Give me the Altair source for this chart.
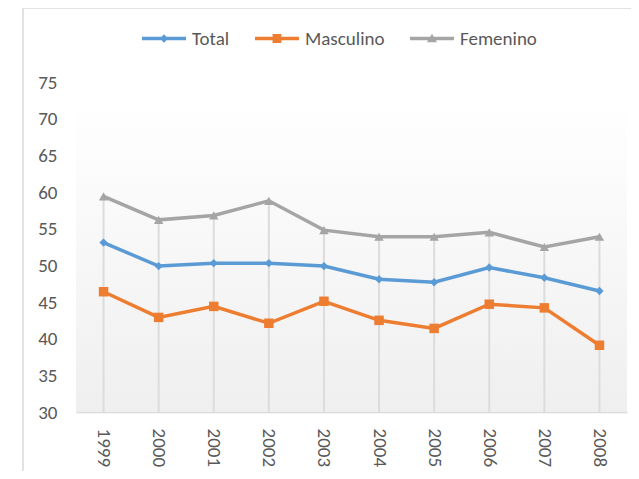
import altair as alt
import pandas as pd

years = ["1999", "2000", "2001", "2002", "2003", "2004", "2005", "2006", "2007", "2008"]
total = [53.1, 49.9, 50.3, 50.3, 49.9, 48.1, 47.7, 49.7, 48.3, 46.5]
masculino = [46.4, 42.9, 44.4, 42.1, 45.1, 42.5, 41.4, 44.7, 44.2, 39.1]
femenino = [59.4, 56.2, 56.8, 58.8, 54.8, 53.9, 53.9, 54.5, 52.5, 53.9]
series_names = ["Total", "Masculino", "Femenino"]
series_colors = ["#5B9BD5", "#ED7D31", "#A5A5A5"]
series_shapes = ["diamond", "square", "triangle-up"]
series_sizes = [70, 90, 90]

rows = []
for name, vals in zip(series_names, [total, masculino, femenino]):
    for y, v in zip(years, vals):
        rows.append({"year": y, "value": v, "series": name})
df = pd.DataFrame(rows)
df_fem = pd.DataFrame({"year": years, "value": femenino})

FONT = "Carlito, Calibri, 'Liberation Sans Narrow', 'Open Sans', sans-serif"
FS = 19
W, H = 551, 330

xs = alt.X("year:N", scale=alt.Scale(type="point", padding=0.5),
           axis=alt.Axis(title=None, labelAngle=90, labelAlign="left", labelBaseline="middle",
                         labelPadding=16, ticks=False, domain=True, domainColor="#d9d9d9",
                         domainWidth=1.5, grid=False, labelFontSize=FS, labelColor="#595959",
                         labelFont=FONT))
ys = alt.Y("value:Q", scale=alt.Scale(domain=[30, 75], nice=False, zero=False),
           axis=alt.Axis(title=None, values=list(range(30, 80, 5)), ticks=False, domain=False,
                         grid=False, labelPadding=19, labelFontSize=FS, labelColor="#595959",
                         labelFont=FONT))

line_path = "M-1,-0.08H1V0.08H-1Z"
legend_paths = [
    line_path + " M0,-0.19L0.19,0L0,0.19L-0.19,0Z",
    line_path + " M-0.2,-0.2H0.2V0.2H-0.2Z",
    line_path + " M0,-0.22L0.23,0.17H-0.23Z",
]

legend = alt.Legend(
    title=None, orient="none", direction="horizontal", legendX=66, legendY=-65.5,
    padding=0, columnPadding=25, labelOffset=6, symbolSize=1936, symbolStrokeWidth=0,
    symbolFillColor="#888888", symbolOpacity=1, labelFontSize=FS, labelColor="#595959",
    labelFont=FONT,
)
color_scale = alt.Scale(domain=series_names, range=series_colors)
color_enc = alt.Color("series:N", scale=color_scale, sort=series_names, legend=legend)

legend_layer = alt.Chart(df).transform_filter("false").mark_point(filled=True, opacity=1).encode(
    x=xs, y=ys, color=color_enc,
    shape=alt.Shape("series:N", scale=alt.Scale(domain=series_names, range=legend_paths),
                    sort=series_names, legend=legend))

bg = alt.Chart(alt.Data(values=[{}])).mark_rect(
    color=alt.LinearGradient(gradient="linear", x1=0, y1=0, x2=0, y2=1,
                             stops=[alt.GradientStop(color="#ffffff", offset=0),
                                    alt.GradientStop(color="#efefef", offset=1)])
).encode(x=alt.value(0), x2=alt.value(W), y=alt.value(20), y2=alt.value(H))

frame_left = alt.Chart(alt.Data(values=[{}])).mark_rule(color="#d9d9d9", strokeWidth=1.5).encode(
    x=alt.value(-53), y=alt.value(-74), y2=alt.value(H + 60))
frame_top = alt.Chart(alt.Data(values=[{}])).mark_rule(color="#d9d9d9", strokeWidth=1.5).encode(
    x=alt.value(-53), x2=alt.value(W + 10), y=alt.value(-74))

drops = alt.Chart(df_fem).mark_rule(color="#dcdcdc", strokeWidth=2).encode(
    x=xs, y=ys, y2=alt.datum(30))

lines = alt.Chart(df).mark_line(strokeWidth=3.5).encode(x=xs, y=ys, color=color_enc)

marker_layers = []
for name, shp, sz in zip(series_names, series_shapes, series_sizes):
    marker_layers.append(
        alt.Chart(df).transform_filter(alt.datum.series == name)
        .mark_point(filled=True, shape=shp, size=sz, opacity=1)
        .encode(x=xs, y=ys, color=color_enc)
    )

chart = alt.layer(legend_layer, bg, frame_left, frame_top, drops, lines, *marker_layers).properties(
    width=W, height=H,
    autosize=alt.AutoSizeParams(type="none"),
    padding={"left": 68, "top": 74, "right": 4, "bottom": 59},
).configure(background="white").configure_view(stroke="transparent")

chart.save("out.html", embed_options={"renderer": "svg", "actions": False})
